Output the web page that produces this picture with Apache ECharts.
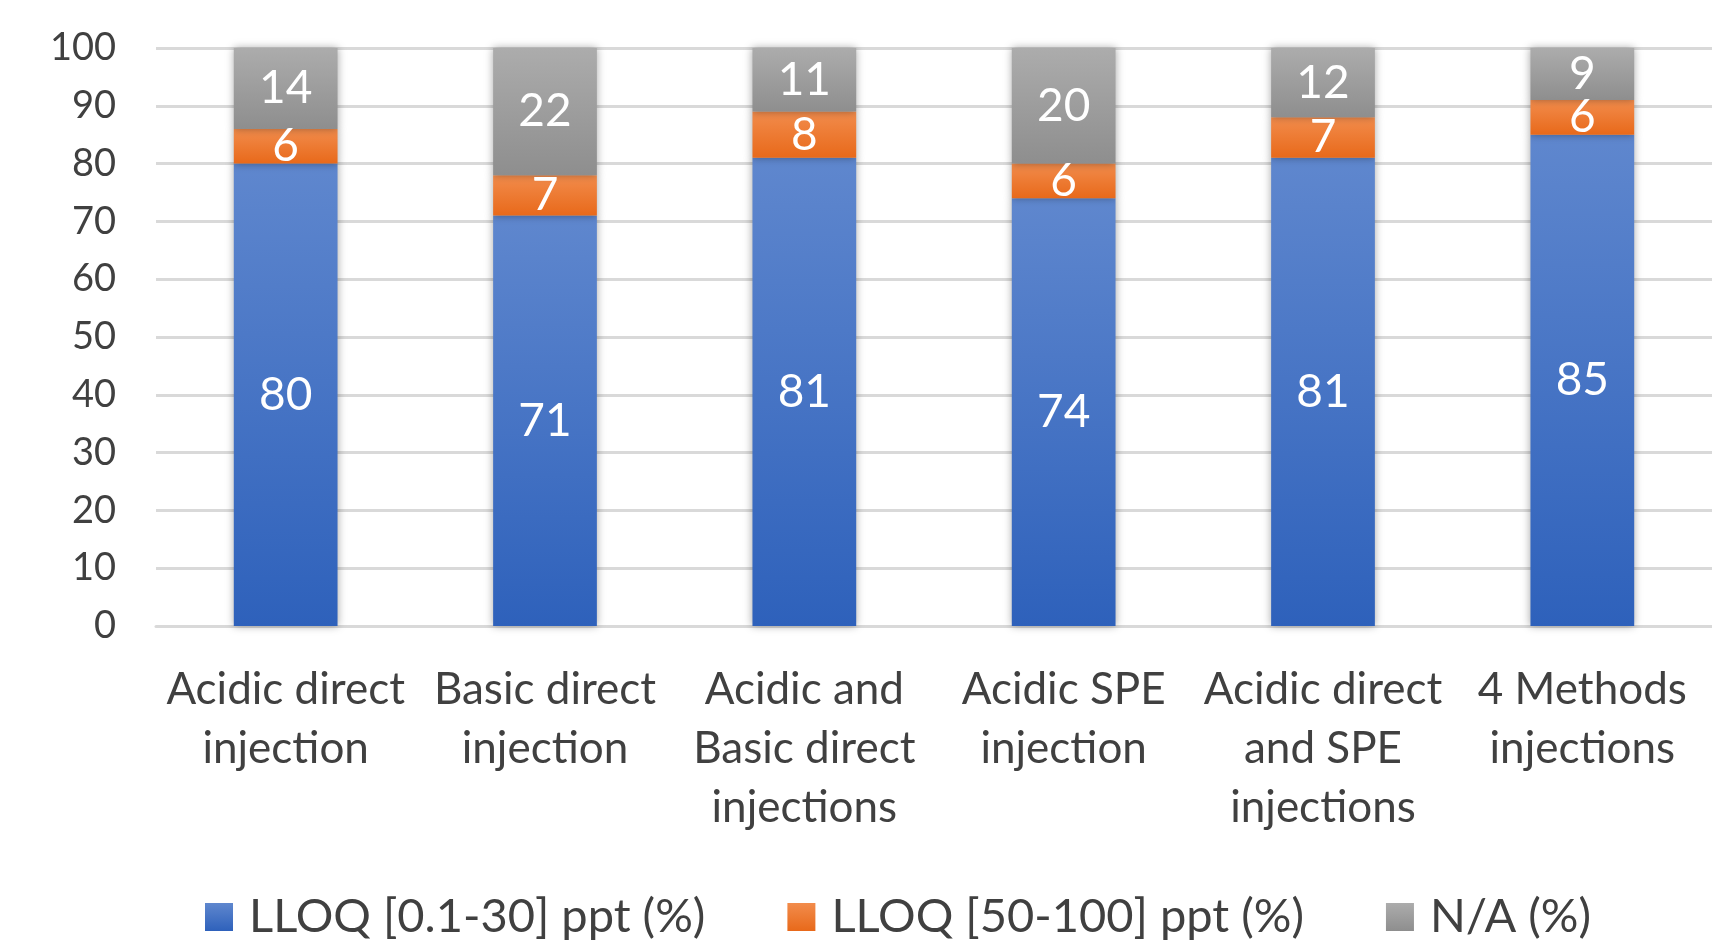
<!DOCTYPE html>
<html>
<head>
<meta charset="utf-8">
<script src="https://cdn.jsdelivr.net/npm/echarts@6/dist/echarts.min.js"></script>
<style>
html,body{margin:0;padding:0;background:#fff;}
#chart{width:1712px;height:945px;}
</style>
</head>
<body>
<div id="chart"></div>
<script>
const categories = [
  "Acidic direct\ninjection",
  "Basic direct\ninjection",
  "Acidic and\nBasic direct\ninjections",
  "Acidic SPE\ninjection",
  "Acidic direct\nand SPE\ninjections",
  "4 Methods\ninjections"
];
const lowLLOQ = [80, 71, 81, 74, 81, 85];
const highLLOQ = [6, 7, 8, 6, 7, 6];
const notAvailable = [14, 22, 11, 20, 12, 9];
const seriesNames = ["LLOQ [0.1-30] ppt (%)", "LLOQ [50-100] ppt (%)", "N/A (%)"];

const FONT = "Lato";
function grad(top, bottom) {
  return new echarts.graphic.LinearGradient(0, 0, 0, 1, [
    {offset: 0, color: top}, {offset: 1, color: bottom}
  ]);
}
const labelStyle = {
  show: true, position: 'inside', color: '#ffffff',
  fontFamily: FONT, fontSize: 46
};
const itemShadow = {shadowBlur: 8, shadowColor: 'rgba(0,0,0,0.35)'};

const chart = echarts.init(document.getElementById('chart'), null, {renderer: 'canvas'});
chart.setOption({
  animation: false,
  backgroundColor: '#ffffff',
  grid: {left: 156, right: 0, top: 48, bottom: 319, containLabel: false},
  legend: {
    top: 887, left: 200,
    itemWidth: 28, itemHeight: 28, itemGap: 82,
    textStyle: {fontFamily: FONT, fontSize: 47, lineHeight: 50, color: '#404040', padding: [0, 0, 0, 11]},
    icon: 'rect',
    data: seriesNames
  },
  xAxis: {
    type: 'category',
    data: categories,
    axisLine: {show: true, lineStyle: {color: '#d9d9d9', width: 3}},
    axisTick: {show: false},
    axisLabel: {
      interval: 0, margin: 34, color: '#404040',
      fontFamily: FONT, fontSize: 44, lineHeight: 59
    }
  },
  yAxis: {
    type: 'value', min: 0, max: 100, interval: 10,
    axisLine: {show: false}, axisTick: {show: false},
    axisLabel: {margin: 40, color: '#404040', fontFamily: FONT, fontSize: 38},
    splitLine: {lineStyle: {color: '#d9d9d9', width: 3}}
  },
  series: [
    {
      name: seriesNames[0], type: 'bar', stack: 'total', barWidth: '40%',
      data: lowLLOQ, label: labelStyle,
      itemStyle: Object.assign({color: grad('#5f87ce', '#2e61bb')}, itemShadow)
    },
    {
      name: seriesNames[1], type: 'bar', stack: 'total',
      data: highLLOQ, label: labelStyle,
      itemStyle: Object.assign({color: grad('#f28c4c', '#e8691a')}, itemShadow)
    },
    {
      name: seriesNames[2], type: 'bar', stack: 'total',
      data: notAvailable, label: labelStyle,
      itemStyle: Object.assign({color: grad('#acacac', '#8e8e8e')}, itemShadow)
    }
  ]
});
</script>
</body>
</html>
